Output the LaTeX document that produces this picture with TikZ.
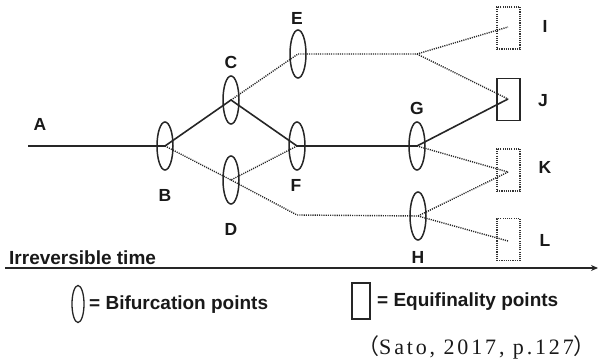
\documentclass[tikz,border=0pt]{standalone}
\usepackage{fontspec}
\setmainfont{Liberation Sans}
\newfontfamily\citefont{Liberation Serif}[LetterSpace=13]
\newfontfamily\cjkfont{Noto Sans CJK JP}
\usetikzlibrary{shapes.geometric,arrows.meta}
\begin{document}
\begin{tikzpicture}[x=1pt,y=-1pt,
  solidln/.style={line width=1.6pt,draw=black!85},
  dotln/.style={line width=1.4pt,draw=black!85,dash pattern=on 1.1pt off 1.1pt},
  bif/.style={ellipse,draw=black!85,line width=1.5pt,minimum width=16pt,minimum height=48pt,inner sep=0pt},
  eqbox/.style={rectangle,draw=black!85,line width=1.4pt,minimum width=23pt,minimum height=42pt,inner sep=0pt},
  eqdot/.style={eqbox,line width=1.3pt,draw=black!80,dash pattern=on 1.1pt off 1.1pt},
  lbl/.style={font=\fontsize{17.5}{17.5}\selectfont\bfseries,text=black!90,inner sep=0pt},
  leg/.style={font=\fontsize{19}{19}\selectfont\bfseries,text=black!90,inner sep=0pt,anchor=west}]
\useasboundingbox (0,0) rectangle (598,363);
% ellipses
\node[bif] (B) at (165,146) {};
\node[bif] (C) at (231,100) {};
\node[bif] (D) at (231,180) {};
\node[bif] (E) at (298,54) {};
\node[bif] (F) at (297,146) {};
\node[bif] (G) at (417,146) {};
\node[bif] (H) at (418,216) {};
% boxes
\node[eqdot] (I) at (508.5,28) {};
\node[eqbox] (J) at (508.5,99.5) {};
\node[eqdot] (K) at (508.5,170) {};
\node[eqdot] (L) at (508.5,239.5) {};
% coordinates
\coordinate (A0) at (28,146);
\coordinate (Ej) at (417,54);
\coordinate (Dh) at (297,215);
\coordinate (Ii) at (508,27);
\coordinate (Jj) at (508,99);
\coordinate (Kk) at (508,172);
\coordinate (Ll) at (508,241);
% solid paths
\draw[solidln] (A0) -- (B.center) -- (C.center) -- (F.center) -- (G.center) -- (Jj);
% dotted paths
\draw[dotln] (C.center) -- (E.center) -- (Ej) -- (Ii);
\draw[dotln] (Ej) -- (Jj);
\draw[dotln] (B.center) -- (D.center) -- (F.center);
\draw[dotln] (D.center) -- (Dh) -- (H.center) -- (Kk);
\draw[dotln] (H.center) -- (Ll);
\draw[dotln] (G.center) -- (Kk);
% labels
\node[lbl] (lA) at (40,124) {A};
\node[lbl] (lB) at (165,195) {B};
\node[lbl] (lC) at (231,62) {C};
\node[lbl] (lD) at (231,229) {D};
\node[lbl] (lE) at (297,18) {E};
\node[lbl] (lF) at (296,185) {F};
\node[lbl] (lG) at (417,108) {G};
\node[lbl] (lH) at (418,257) {H};
\node[lbl] (lI) at (545,26) {I};
\node[lbl] (lJ) at (543,101) {J};
\node[lbl] (lK) at (545,167) {K};
\node[lbl] (lL) at (545,240) {L};
% time axis
\coordinate (T0) at (5,268);
\coordinate (T1) at (598,268);
\draw[line width=1.6pt,draw=black!85,-{Stealth[length=7pt,width=6pt]}] (T0) -- (T1);
\node[leg,anchor=base west] (time) at (9,265) {Irreversible time};
% legend
\node[bif,minimum width=12pt,minimum height=37pt,line width=1.3pt] (legE) at (78,304) {};
\node[leg] (legEt) at (89,305) {= Bifurcation points};
\node[rectangle,draw=black!85,line width=1.3pt,minimum width=18pt,minimum height=36pt,inner sep=0pt] (legR) at (361,301) {};
\node[leg] (legRt) at (377,302) {= Equifinality points};
% citation
\node[inner sep=0pt,anchor=base west,font=\fontsize{22}{22}\selectfont,text=black!90] (cite) at (357,355) {{\cjkfont （}{\citefont Sato, 2017, p.127}{\cjkfont ）}};
\end{tikzpicture}
\end{document}
